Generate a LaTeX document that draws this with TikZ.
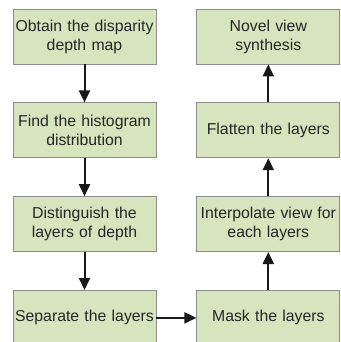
\documentclass[tikz,border=0pt]{standalone}
\usepackage{fontspec}
\setmainfont{Liberation Sans}
\usepackage{tikz}
\usetikzlibrary{
    arrows.meta,
    positioning
}
\definecolor{stagegreen}{RGB}{215,228,189}
\definecolor{stageborder}{RGB}{140,140,140}
\tikzstyle{stage} = [
    rectangle,
    draw=stageborder,
    line width=0.8pt,
    fill=stagegreen,
    text width=143pt,
    inner xsep=0pt,
    minimum height=55pt,
    text centered,
    text=black!85,
    font=\fontsize{15.8pt}{19pt}\selectfont
]
\tikzstyle{arrow} = [
    -{Triangle[length=12pt, width=11pt]},
    line width=2pt,
    draw=black!90
]

\begin{document}
\begin{tikzpicture}[node distance=38pt]
    \useasboundingbox (0,0) rectangle (340pt,-342pt);

    % Left column
    \node[stage] (depth) at (84.5pt,-36.5pt) {Obtain the disparity\\depth map};
    \node[stage, below=of depth] (hist) {Find the histogram\\distribution};
    \node[stage, below=of hist] (dist) {Distinguish the\\layers of depth};
    \node[stage, below=of dist] (sep) {Separate the layers};

    % Right column
    \node[stage, right=40pt of sep] (mask) {Mask the layers};
    \node[stage, above=of mask] (interp) {Interpolate view for\\each layers};
    \node[stage, above=of interp] (flat) {Flatten the layers};
    \node[stage, above=of flat] (novel) {Novel view\\synthesis};

    \draw[arrow] (depth) -- (hist);
    \draw[arrow] (hist) -- (dist);
    \draw[arrow] (dist) -- (sep);
    \draw[arrow] (sep) -- (mask);
    \draw[arrow] (mask) -- (interp);
    \draw[arrow] (interp) -- (flat);
    \draw[arrow] (flat) -- (novel);
\end{tikzpicture}
\end{document}
